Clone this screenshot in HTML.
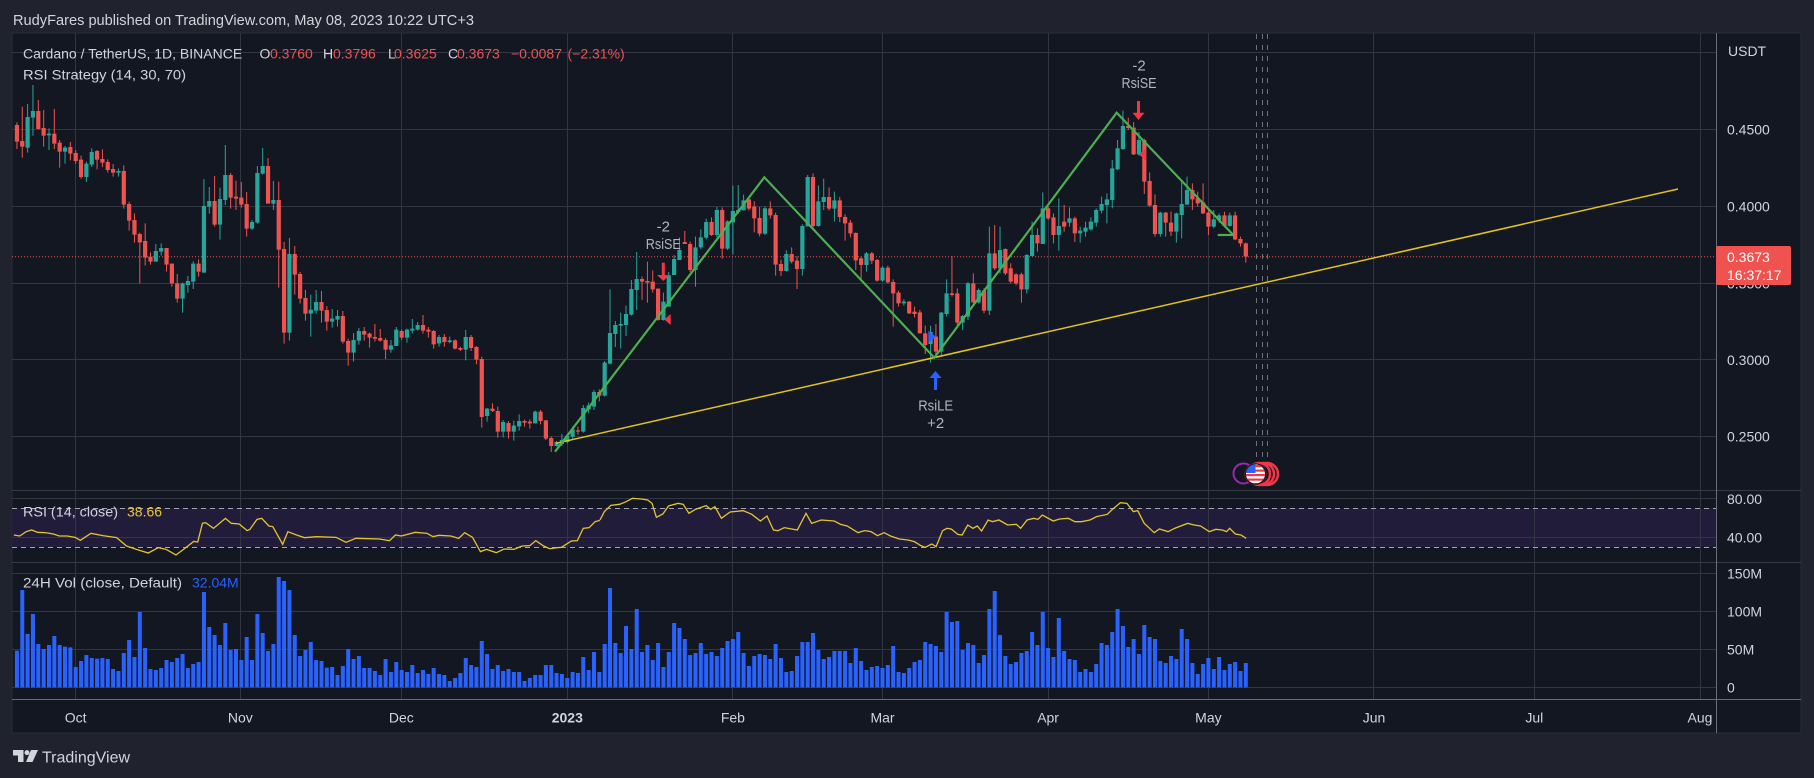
<!DOCTYPE html>
<html><head><meta charset="utf-8">
<style>
html,body{margin:0;padding:0;background:#20232e;overflow:hidden;}
svg{display:block}
text{font-family:"Liberation Sans",sans-serif;}
</style></head>
<body>
<svg width="1814" height="778" viewBox="0 0 1814 778" xmlns="http://www.w3.org/2000/svg">
<defs>
<clipPath id="fc"><circle cx="1255.5" cy="474" r="9.5"/></clipPath>
</defs>
<rect width="1814" height="778" fill="#20232e"/>
<text x="13" y="25" fill="#d1d4dc" font-size="14.5" textLength="461" lengthAdjust="spacingAndGlyphs">RudyFares published on TradingView.com, May 08, 2023 10:22 UTC+3</text>
<rect x="12" y="33" width="1789" height="700" fill="#131722" stroke="#2a2e39" stroke-width="1"/>

<!-- RSI band -->
<rect x="12" y="508" width="1704" height="39" fill="#221c3b"/>

<!-- grid -->
<g stroke="#323542" stroke-width="1" fill="none">
<path d="M12 52.5H1716M12 129.5H1716M12 206.5H1716M12 283.5H1716M12 359.5H1716M12 436.5H1716"/>
<path d="M12 498.5H1716M12 537.5H1716"/>
<path d="M12 573.5H1716M12 611.5H1716M12 649.5H1716M12 687.5H1716"/>
<path d="M75.5 33V699M240.5 33V699M401.5 33V699M567.5 33V699M732.5 33V699M882.5 33V699M1048.5 33V699M1208.5 33V699M1373.5 33V699M1534.5 33V699M1700.5 33V699"/>
</g>
<g stroke="#363a45" stroke-width="1">
<path d="M12 490.5H1801M12 562.5H1801"/>
</g>
<g stroke="#a3a6af" stroke-width="1" stroke-dasharray="5,4">
<path d="M12 508.5H1716M12 547.5H1716"/>
</g>

<!-- current price dotted line -->
<path d="M12 256.7H1716" stroke="#ef5350" stroke-width="1" stroke-dasharray="1,2"/>

<!-- event dashed verticals -->
<g stroke="#6f727d" stroke-width="1" stroke-dasharray="5,6">
<path d="M1256.5 34V458M1262.5 34V458M1267.5 34V458"/>
</g>

<!-- volume -->
<g transform="translate(16.927,480) scale(5.343,0.33333)">
<path fill="none" stroke="#2962ff" stroke-width="4" vector-effect="non-scaling-stroke" d="M0 512V622M1 330V622M2 462V622M3 402V622M4 492V622M5 507V622M6 495V622M7 468V622M8 495V622M9 500V622M10 502V622M11 561V622M12 543V622M13 525V622M14 534V622M15 536V622M16 534V622M17 537V622M18 567V622M19 573V622M20 519V622M21 480V622M22 531V622M23 396V622M24 504V622M25 567V622M26 570V622M27 564V622M28 540V622M29 546V622M30 534V622M31 522V622M32 564V622M33 552V622M34 546V622M35 336V622M36 441V622M37 465V622M38 495V622M39 429V622M40 510V622M41 507V622M42 540V622M43 471V622M44 540V622M45 402V622M46 459V622M47 513V622M48 492V622M49 291V622M50 303V622M51 330V622M52 465V622M53 528V622M54 510V622M55 486V622M56 540V622M57 543V622M58 563V622M59 561V622M60 585V622M61 558V622M62 507V622M63 537V622M64 528V622M65 564V622M66 564V622M67 573V622M68 585V622M69 537V622M70 576V622M71 546V622M72 570V622M73 576V622M74 555V622M75 579V622M76 570V622M77 582V622M78 564V622M79 582V622M80 585V622M81 603V622M82 594V622M83 579V622M84 534V622M85 555V622M86 561V622M87 483V622M88 522V622M89 567V622M90 555V622M91 573V622M92 567V622M93 576V622M94 576V622M95 603V622M96 594V622M97 585V622M98 585V622M99 555V622M100 555V622M101 579V622M102 582V622M103 594V622M104 576V622M105 579V622M106 531V622M107 570V622M108 516V622M109 576V622M110 492V622M111 324V622M112 489V622M113 519V622M114 438V622M115 507V622M116 387V622M117 516V622M118 495V622M119 540V622M120 489V622M121 561V622M122 516V622M123 429V622M124 444V622M125 477V622M126 525V622M127 519V622M128 489V622M129 522V622M130 516V622M131 528V622M132 504V622M133 483V622M134 477V622M135 456V622M136 519V622M137 558V622M138 528V622M139 522V622M140 525V622M141 537V622M142 492V622M143 534V622M144 576V622M145 573V622M146 528V622M147 486V622M148 486V622M149 459V622M150 510V622M151 537V622M152 531V622M153 513V622M154 513V622M155 513V622M156 549V622M157 504V622M158 543V622M159 570V622M160 561V622M161 558V622M162 564V622M163 555V622M164 498V622M165 576V622M166 579V622M167 564V622M168 546V622M169 540V622M170 486V622M171 492V622M172 498V622M173 516V622M174 396V622M175 426V622M176 423V622M177 510V622M178 489V622M179 495V622M180 549V622M181 525V622M182 387V622M183 333V622M184 465V622M185 528V622M186 552V622M187 546V622M188 519V622M189 513V622M190 456V622M191 495V622M192 396V622M193 504V622M194 531V622M195 414V622M196 513V622M197 537V622M198 540V622M199 576V622M200 567V622M201 576V622M202 552V622M203 489V622M204 495V622M205 456V622M206 387V622M207 438V622M208 501V622M209 477V622M210 522V622M211 435V622M212 471V622M213 477V622M214 543V622M215 549V622M216 528V622M217 537V622M218 447V622M219 477V622M220 549V622M221 582V622M222 552V622M223 534V622M224 567V622M225 531V622M226 570V622M227 552V622M228 546V622M229 573V622M230 549V622"/>
</g>

<!-- candles segment A -->
<g transform="translate(16.927,90) scale(5.343,0.33333)" fill="none">
<path stroke="#ef5350" stroke-width="1" vector-effect="non-scaling-stroke" d="M0 97V177M1 50V203M4 30V118M5 60V170M7 57V177M8 150V233M10 156V211M11 180V221M12 197V266M15 180V238M16 178V231M17 208V248M18 222V260M20 226V356M21 335V422M22 370V458M23 428V580M24 400V527M25 487V524M28 474V545M29 521V590M30 552V638M34 508V560M37 258V410M40 249V356M41 272V360M42 276V353M43 306V440M47 204V341M49 275V593M50 456V761M52 468V614M53 546V641M54 600V692M57 603V698M58 648V722M61 663V761M62 746V827M65 711V752M66 728V773M67 702V755M68 717V755M69 744V807M72 719V750M76 675V731M77 711V743"/>
<path stroke="#ef5350" stroke-width="4.2" vector-effect="non-scaling-stroke" d="M0 105V155M1 153V170M4 63V117M5 114V137M7 131V161M8 158V185M10 171V191M11 189V213M12 209V261M15 183V209M16 207V218M17 216V240M18 237V248M20 243V344M21 342V392M22 390V434M23 432V457M24 453V503M25 500V515M28 474V524M29 521V580M30 580V626M34 521V545M37 333V404M40 255V323M41 320V326M42 323V344M43 342V416M47 228V341M49 330V479M50 477V728M52 492V554M53 552V626M54 624V671M57 636V662M58 660V695M61 678V755M62 753V788M65 723V734M66 731V743M67 741V746M68 744V752M69 750V779M72 723V743M76 705V722M77 719V725"/>
<path stroke="#26a69a" stroke-width="1" vector-effect="non-scaling-stroke" d="M2 42V188M3 -15V137M6 115V180M9 168V221M13 215V276M14 175V231M19 235V260M26 462V515M27 460V497M31 578V668M32 558V608M33 514V597M35 267V548M36 291V371M38 293V449M39 165V345M44 390V420M45 228V401M46 174V254M48 273V360M51 444V752M55 614V740M56 600V671M59 657V713M60 660V710M63 729V815M64 714V764M70 750V788M71 711V768M73 716V758M74 687V731M75 696V722"/>
<path stroke="#26a69a" stroke-width="4.2" vector-effect="non-scaling-stroke" d="M2 81V173M3 63V83M6 131V136M9 173V185M13 221V261M14 186V224M19 243V248M26 483V515M27 474V485M31 580V626M32 573V585M33 521V575M35 348V548M36 333V350M38 327V404M39 255V330M44 396V416M45 249V398M46 228V251M48 330V341M51 492V728M55 659V671M56 636V662M59 686V695M60 678V689M63 750V788M64 723V752M70 766V779M71 719V768M73 719V743M74 716V722M75 705V719"/>
</g>

<!-- candles segment B -->
<g transform="translate(433.681,160) scale(5.343,0.33333)" fill="none">
<path stroke="#ef5350" stroke-width="1" vector-effect="non-scaling-stroke" d="M0 510V566M2 522V560M4 538V568M5 560V573M7 525V573M8 558V613M9 590V803M11 730V756M12 740V833M14 783V836M17 779V800M18 778V806M20 750V793M21 780V840M22 830V876M27 800V824M31 688V724M39 350V420M40 305V428M41 331V398M42 385V482M47 213V252M48 245V336M52 172V228M54 142V296M59 111V152M60 124V217M61 141V229M63 124V176M64 158V347M65 299V348M67 262V310M68 289V387M71 40V205M74 82V152M76 111V186M77 163V242M78 180V232"/>
<path stroke="#ef5350" stroke-width="4.2" vector-effect="non-scaling-stroke" d="M0 513V553M2 531V546M4 541V566M5 564V569M7 531V564M8 561V599M9 597V771M11 746V753M12 753V815M14 789V815M17 783V788M18 785V790M20 755V783M21 781V836M22 834V858M27 811V815M31 696V707M39 357V365M40 363V368M41 365V388M42 386V480M47 246V252M48 252V330M52 186V225M54 150V266M59 118V146M60 140V175M61 174V221M63 145V166M64 165V314M65 312V333M67 282V305M68 302V327M71 51V198M74 111V146M76 121V171M77 171V190M78 188V220"/>
<path stroke="#26a69a" stroke-width="1" vector-effect="non-scaling-stroke" d="M1 525V560M3 530V550M6 510V601M10 744V785M13 780V832M15 782V842M16 763V812M19 752V790M23 843V860M24 822V858M25 822V850M26 800V836M28 735V818M29 728V760M30 690V750M32 603V710M33 388V613M34 483V561M35 458V565M36 437V528M37 360V467M38 276V450M43 398V482M44 336V440M45 285V345M46 232V300M49 230V380M50 208V268M51 176V238M53 141V231M55 181V270M56 77V283M57 75V162M58 104V151M62 140V225M66 271V335M69 193V347M70 45V199M72 76V200M73 56V150M75 95V185"/>
<path stroke="#26a69a" stroke-width="4.2" vector-effect="non-scaling-stroke" d="M1 531V550M3 541V546M6 531V569M10 746V768M13 786V815M15 797V815M16 783V799M19 755V790M23 846V858M24 840V852M25 828V846M26 808V830M28 744V815M29 736V748M30 696V740M32 608V707M33 519V611M34 495V522M35 492V497M36 462V495M37 387V464M38 357V390M43 425V480M44 346V440M45 297V345M46 270V300M49 262V330M50 232V262M51 186V233M53 150V225M55 184V266M56 153V187M57 150V156M58 121V151M62 145V221M66 282V333M69 198V327M70 51V199M72 124V198M73 111V126M75 121V146"/>
</g>

<!-- candles segment C -->
<g transform="translate(855.778,40) scale(5.343,0.33333)" fill="none">
<path stroke="#ef5350" stroke-width="1" vector-effect="non-scaling-stroke" d="M0 577V690M1 650V720M3 636V672M4 657V725M6 677V730M7 718V860M8 752V800M10 783V822M11 800V832M12 810V880M13 857V942M15 852V950M18 648V770M19 745V855M22 700V790M24 745V820M26 555V690M28 625V705M29 670V730M30 700V736M31 698V788M34 565V635M36 500V540M37 520V610M39 495V575M41 530V606M51 233V270M52 246V345M54 296V462M55 397V500M56 463V590M58 516V590M59 515V588M63 430V510M64 455V500M65 430V522M66 510V585M69 515V562M71 515V600M72 590V620M73 608V668"/>
<path stroke="#ef5350" stroke-width="4.2" vector-effect="non-scaling-stroke" d="M0 579V661M1 655V675M3 640V662M4 660V722M6 683V727M7 726V760M8 758V790M10 785V820M11 815V822M12 817V880M13 880V915M15 890V935M18 760V765M19 760V848M22 730V787M24 752V812M26 640V685M28 627V700M29 685V725M30 703V730M31 703V748M34 585V610M36 505V535M37 532V585M39 545V560M41 535V580M51 258V264M52 263V343M54 300V425M55 423V497M56 495V582M58 518V548M59 548V575M63 450V478M64 475V490M65 487V520M66 518V560M69 526V558M71 526V598M72 597V610M73 610V650"/>
<path stroke="#26a69a" stroke-width="1" vector-effect="non-scaling-stroke" d="M2 636V695M5 678V725M9 778V797M14 857V968M16 816V948M17 718V830M20 825V870M21 726V840M23 745V790M25 560V825M27 560V700M32 642V760M33 545V650M35 457V612M38 475V632M40 502V560M42 560V608M43 545V590M44 532V572M45 505V560M46 470V520M47 460V550M48 360V505M49 300V390M50 212V330M53 276V347M57 515V590M60 518V608M61 418V595M62 410V494M67 510V565M68 520V548M70 518V560"/>
<path stroke="#26a69a" stroke-width="4.2" vector-effect="non-scaling-stroke" d="M2 640V675M5 683V722M9 785V790M14 876V912M16 818V935M17 760V822M20 828V848M21 730V830M23 750V787M25 640V812M27 630V685M32 645V748M33 585V648M35 505V612M38 558V585M40 535V548M42 572V580M43 563V575M44 545V568M45 510V548M46 492V512M47 478V495M48 385V480M49 325V388M50 258V327M53 300V343M57 518V582M60 520V575M61 492V525M62 450V494M67 538V560M68 526V540M70 526V558"/>
</g>

<!-- RSI line -->
<g transform="translate(0,480) scale(0.39541,0.33333)">
<polyline fill="none" stroke="#e2c52c" stroke-width="1.3" vector-effect="non-scaling-stroke" points="35,165 50,168 66,155 80,150 95,157 115,158 135,162 150,168 170,168 190,172 203,181 230,160 260,167 295,173 320,198 345,208 375,219 400,203 420,208 445,225 470,203 490,184 500,186 512,130 520,128 540,145 570,115 585,130 605,132 625,152 632,148 650,118 662,115 680,138 690,140 715,193 728,155 750,165 770,173 800,170 850,172 875,187 900,175 960,177 985,182 1000,165 1015,168 1050,157 1080,160 1095,170 1110,166 1140,168 1160,175 1175,158 1195,172 1215,215 1230,208 1255,218 1275,207 1300,208 1320,198 1340,197 1355,182 1375,198 1390,206 1410,203 1420,202 1445,183 1460,182 1475,145 1490,143 1505,125 1517,121"/>
</g>
<g transform="translate(600,480) scale(0.43365,0.33333)">
<polyline fill="none" stroke="#e2c52c" stroke-width="1.3" vector-effect="non-scaling-stroke" points="0,120 10,95 25,76 45,73 60,65 75,55 95,57 110,60 120,70 130,112 145,102 158,78 180,70 192,73 205,100 220,88 245,77 255,88 265,80 280,115 300,96 330,92 350,103 370,123 385,108 400,150 410,152 425,143 455,150 475,100 488,130 510,120 540,123 555,133 570,138 595,158 610,152 625,155 640,167 655,158 670,168 690,177 710,180 725,185 740,197 750,202 765,192 775,200 790,152 800,145 810,147 825,163 835,165 848,135 860,145 870,138 880,153 895,120 905,125 920,120 940,135 960,133 970,145 985,120 1000,115 1010,118 1020,105 1045,123 1060,117 1080,115 1095,125 1110,125 1130,120 1145,110 1170,103 1180,90 1200,68 1215,70 1230,95 1240,92 1255,130 1278,158 1290,147 1310,155 1325,145 1355,130 1370,135 1385,138 1405,155 1420,148 1435,150 1445,155 1452,145 1465,162 1478,165 1490,175"/>
</g>

<!-- drawings -->
<line x1="556" y1="443.3" x2="1678" y2="189" stroke="#e3c41d" stroke-width="1.5"/>
<polyline fill="none" stroke="#4caf50" stroke-width="2.2" stroke-linejoin="miter" points="555,451.7 764.3,177.3 934.3,357.7 1116.7,112.7 1233.3,235"/>
<line x1="1217.7" y1="235" x2="1233.3" y2="235" stroke="#4caf50" stroke-width="2.2"/>

<!-- signal markers -->
<g fill="#f23645">
<rect x="661.8" y="262.7" width="3" height="12.5"/>
<polygon points="657,275 669.6,275 663.3,281"/>
<rect x="1137" y="101" width="3" height="12"/>
<polygon points="1132.5,112.7 1144.5,112.7 1138.5,120"/>
<polygon points="664.3,319.5 670.7,314 670.7,325"/>
<polygon points="1139,154.5 1146,148.3 1146,160.7"/>
</g>
<g fill="#2962ff">
<polygon points="935.5,371 929.5,378 941.5,378"/>
<rect x="934" y="378" width="3" height="12"/>
<polygon points="928.3,330.7 928.3,342.7 936,336.7"/>
</g>
<g fill="#b2b5be" font-size="15" text-anchor="middle">
<text x="663.3" y="231.5">-2</text>
<text x="663.3" y="249" textLength="35" lengthAdjust="spacingAndGlyphs">RsiSE</text>
<text x="1139" y="70.5">-2</text>
<text x="1139" y="88" textLength="35" lengthAdjust="spacingAndGlyphs">RsiSE</text>
<text x="935.7" y="410.5" textLength="35" lengthAdjust="spacingAndGlyphs">RsiLE</text>
<text x="935.7" y="428">+2</text>
</g>

<!-- flag icons -->
<circle cx="1243.5" cy="473.5" r="10" fill="none" stroke="#9c27b0" stroke-width="2"/>
<circle cx="1267" cy="474" r="11" fill="#131722" stroke="#f23645" stroke-width="2.5"/>
<circle cx="1263" cy="474" r="11" fill="#131722" stroke="#f23645" stroke-width="2.5"/>
<circle cx="1259" cy="474" r="11" fill="#131722" stroke="#f23645" stroke-width="2.5"/>
<circle cx="1255.5" cy="474" r="11" fill="#f23645"/>
<g clip-path="url(#fc)">
<rect x="1245" y="463" width="22" height="22" fill="#ffffff"/>
<rect x="1245" y="465" width="22" height="2.2" fill="#f23645"/>
<rect x="1245" y="469.5" width="22" height="2.2" fill="#f23645"/>
<rect x="1245" y="474" width="22" height="2.2" fill="#f23645"/>
<rect x="1245" y="478.5" width="22" height="2.2" fill="#f23645"/>
<rect x="1245" y="483" width="22" height="2.2" fill="#f23645"/>
<rect x="1245" y="463" width="10.5" height="10" fill="#2962ff"/>
</g>
<circle cx="1255.5" cy="474" r="10.2" fill="none" stroke="#131722" stroke-width="1.2"/>

<!-- axes borders -->
<path d="M1716.5 33V733M12 699.5H1801" stroke="#6a6d78" stroke-width="1"/>

<!-- price axis labels -->
<g fill="#d1d4dc" font-size="14">
<text x="1728" y="56">USDT</text>
<text x="1727" y="134.5">0.4500</text>
<text x="1727" y="211.3">0.4000</text>
<text x="1727" y="288.3">0.3500</text>
<text x="1727" y="364.9">0.3000</text>
<text x="1727" y="441.7">0.2500</text>
<text x="1727" y="503.9">80.00</text>
<text x="1727" y="542.5">40.00</text>
<text x="1727" y="578.5">150M</text>
<text x="1727" y="616.5">100M</text>
<text x="1727" y="654.5">50M</text>
<text x="1727" y="692.5">0</text>
</g>
<rect x="1716" y="246" width="75" height="39" rx="2" fill="#f0524f"/>
<text x="1727" y="262" fill="#ffffff" font-size="14">0.3673</text>
<text x="1727" y="280" fill="#ffffff" font-size="14">16:37:17</text>

<!-- time axis labels -->
<g fill="#d1d4dc" font-size="14" text-anchor="middle">
<text x="75.7" y="722.5">Oct</text>
<text x="240.3" y="722.5">Nov</text>
<text x="401.3" y="722.5">Dec</text>
<text x="567.3" y="722.5" font-weight="bold">2023</text>
<text x="732.9" y="722.5">Feb</text>
<text x="882.5" y="722.5">Mar</text>
<text x="1048.1" y="722.5">Apr</text>
<text x="1208.4" y="722.5">May</text>
<text x="1374" y="722.5">Jun</text>
<text x="1534.3" y="722.5">Jul</text>
<text x="1700" y="722.5">Aug</text>
</g>

<!-- legends -->
<text y="58.5" font-size="14" fill="#d1d4dc"><tspan x="23">Cardano / TetherUS, 1D, BINANCE</tspan><tspan x="259.5">O</tspan><tspan x="270" fill="#ef5350">0.3760</tspan><tspan x="323">H</tspan><tspan x="333" fill="#ef5350">0.3796</tspan><tspan x="388">L</tspan><tspan x="394" fill="#ef5350">0.3625</tspan><tspan x="448">C</tspan><tspan x="457" fill="#ef5350">0.3673</tspan><tspan x="511" fill="#ef5350">−0.0087</tspan><tspan x="567.5" fill="#ef5350">(−2.31%)</tspan></text>
<text x="23" y="79.5" font-size="14" fill="#d1d4dc" textLength="163" lengthAdjust="spacingAndGlyphs">RSI Strategy (14, 30, 70)</text>
<text x="23" y="516.5" font-size="14" fill="#d1d4dc" textLength="95" lengthAdjust="spacingAndGlyphs">RSI (14, close)</text>
<text x="127" y="516.5" font-size="14" fill="#e8c62f">38.66</text>
<text x="23" y="587.5" font-size="14" fill="#d1d4dc" textLength="159" lengthAdjust="spacingAndGlyphs">24H Vol (close, Default)</text>
<text x="192" y="587.5" font-size="14" fill="#2962ff">32.04M</text>

<!-- footer -->
<g fill="#d1d4dc">
<path d="M13 750H23.5V762H18V755.5H13Z"/>
<circle cx="27" cy="752.6" r="2.5"/>
<path d="M31 750H38L32.5 762H26Z"/>
</g>
<text x="42" y="762.5" font-size="16" fill="#d1d4dc">TradingView</text>
</svg>
</body></html>
